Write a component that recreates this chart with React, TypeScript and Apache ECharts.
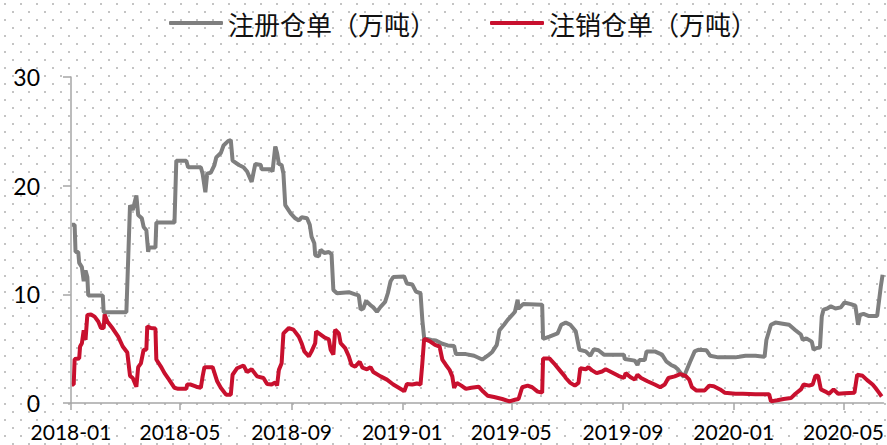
import React, { useEffect, useRef } from "react";
import * as echarts from "echarts";

const seriesNames = ["注册仓单（万吨）", "注销仓单（万吨）"];
const tickLabels = ["2018-01-01", "2018-05-01", "2018-09-01", "2019-01-01", "2019-05-01", "2019-09-01", "2020-01-01", "2020-05-01"];
const axisStart = "2018-01-01";
const axisEnd = "2020-06-14";
const yTicks = [0, 10, 20, 30];

const registered: [string, number][] = [
  ["2018-01-02", 16.4], ["2018-01-05", 16.4], ["2018-01-06", 13.9], ["2018-01-09", 13.9], ["2018-01-10", 12.9],
  ["2018-01-13", 12.5], ["2018-01-15", 11.2], ["2018-01-17", 12.2], ["2018-01-19", 11.6], ["2018-01-20", 9.9],
  ["2018-02-05", 9.9], ["2018-02-06", 8.35], ["2018-03-03", 8.35], ["2018-03-07", 18.2], ["2018-03-10", 17.75],
  ["2018-03-14", 19.1], ["2018-03-16", 17.3], ["2018-03-20", 17.0], ["2018-03-22", 16.2], ["2018-03-25", 15.9],
  ["2018-03-27", 13.9], ["2018-03-28", 14.3], ["2018-04-04", 14.3], ["2018-04-05", 16.6], ["2018-04-25", 16.6],
  ["2018-04-27", 22.3], ["2018-05-08", 22.3], ["2018-05-10", 21.7], ["2018-05-24", 21.7], ["2018-05-26", 21.1],
  ["2018-05-29", 19.4], ["2018-05-31", 21.1], ["2018-06-04", 21.2], ["2018-06-08", 21.9], ["2018-06-10", 22.6],
  ["2018-06-15", 23.0], ["2018-06-18", 23.7], ["2018-06-23", 24.1], ["2018-06-26", 24.2], ["2018-06-28", 22.3],
  ["2018-07-05", 21.9], ["2018-07-10", 21.7], ["2018-07-14", 21.3], ["2018-07-19", 20.35], ["2018-07-23", 22.0],
  ["2018-07-29", 21.9], ["2018-07-30", 21.5], ["2018-08-09", 21.5], ["2018-08-11", 21.3], ["2018-08-14", 23.6],
  ["2018-08-16", 23.0], ["2018-08-18", 22.0], ["2018-08-21", 21.9], ["2018-08-23", 21.1], ["2018-08-25", 18.2],
  ["2018-08-31", 17.45], ["2018-09-05", 17.0], ["2018-09-09", 16.8], ["2018-09-12", 17.1], ["2018-09-18", 17.0],
  ["2018-09-21", 16.4], ["2018-09-23", 15.3], ["2018-09-26", 14.7], ["2018-09-27", 13.6], ["2018-10-01", 13.5],
  ["2018-10-03", 14.1], ["2018-10-07", 13.8], ["2018-10-12", 13.9], ["2018-10-15", 13.7], ["2018-10-17", 10.4],
  ["2018-10-21", 10.1], ["2018-11-03", 10.2], ["2018-11-10", 10.0], ["2018-11-14", 9.9], ["2018-11-16", 8.6],
  ["2018-11-19", 8.7], ["2018-11-22", 9.4], ["2018-11-27", 9.0], ["2018-11-30", 8.8], ["2018-12-04", 8.4],
  ["2018-12-08", 8.85], ["2018-12-13", 9.3], ["2018-12-16", 10.1], ["2018-12-19", 11.2], ["2018-12-22", 11.6],
  ["2019-01-03", 11.65], ["2019-01-06", 11.0], ["2019-01-12", 10.9], ["2019-01-16", 10.25], ["2019-01-21", 10.1],
  ["2019-01-23", 7.65], ["2019-01-25", 5.97], ["2019-02-02", 5.8], ["2019-02-07", 5.75], ["2019-02-14", 5.45],
  ["2019-02-20", 5.3], ["2019-02-27", 5.25], ["2019-03-01", 4.5], ["2019-03-12", 4.5], ["2019-03-21", 4.35],
  ["2019-03-30", 4.0], ["2019-04-05", 4.35], ["2019-04-10", 4.7], ["2019-04-15", 5.35], ["2019-04-18", 6.7],
  ["2019-04-23", 7.2], ["2019-04-27", 7.65], ["2019-05-02", 8.1], ["2019-05-05", 8.4], ["2019-05-08", 9.5],
  ["2019-05-09", 8.7], ["2019-05-14", 9.1], ["2019-06-04", 9.05], ["2019-06-05", 5.9], ["2019-06-12", 6.1],
  ["2019-06-21", 6.4], ["2019-06-25", 7.2], ["2019-06-30", 7.4], ["2019-07-05", 7.2], ["2019-07-11", 6.6],
  ["2019-07-15", 4.9], ["2019-07-22", 4.75], ["2019-07-27", 4.35], ["2019-07-31", 4.95], ["2019-08-05", 4.85],
  ["2019-08-11", 4.45], ["2019-09-02", 4.45], ["2019-09-03", 4.05], ["2019-09-14", 3.9], ["2019-09-17", 3.5],
  ["2019-09-19", 3.95], ["2019-09-25", 3.95], ["2019-09-27", 4.75], ["2019-10-06", 4.75], ["2019-10-14", 4.45],
  ["2019-10-19", 3.8], ["2019-10-24", 3.5], ["2019-10-28", 3.35], ["2019-11-01", 3.05], ["2019-11-07", 2.4],
  ["2019-11-14", 3.8], ["2019-11-19", 4.75], ["2019-11-23", 4.9], ["2019-12-02", 4.85], ["2019-12-06", 4.35],
  ["2019-12-15", 4.2], ["2020-01-03", 4.2], ["2020-01-07", 4.25], ["2020-01-14", 4.35], ["2020-01-25", 4.35],
  ["2020-02-04", 4.25], ["2020-02-06", 5.8], ["2020-02-11", 7.2], ["2020-02-16", 7.4], ["2020-02-24", 7.3],
  ["2020-03-02", 7.2], ["2020-03-09", 6.7], ["2020-03-15", 6.3], ["2020-03-17", 5.8], ["2020-03-21", 5.95],
  ["2020-03-27", 5.65], ["2020-03-29", 4.9], ["2020-04-01", 5.05], ["2020-04-05", 5.1], ["2020-04-07", 7.95],
  ["2020-04-09", 8.6], ["2020-04-13", 8.7], ["2020-04-17", 8.9], ["2020-04-22", 8.7], ["2020-04-28", 8.8],
  ["2020-05-02", 9.25], ["2020-05-09", 9.1], ["2020-05-14", 8.95], ["2020-05-17", 7.2], ["2020-05-19", 8.1],
  ["2020-05-23", 8.2], ["2020-05-29", 8.0], ["2020-06-07", 8.0], ["2020-06-11", 10.7], ["2020-06-13", 11.8],
];

const cancelled: [string, number][] = [
  ["2018-01-02", 1.7], ["2018-01-04", 1.7], ["2018-01-05", 4.05], ["2018-01-10", 4.1], ["2018-01-11", 5.2],
  ["2018-01-13", 5.5], ["2018-01-15", 6.7], ["2018-01-17", 5.8], ["2018-01-19", 8.1], ["2018-01-23", 8.15],
  ["2018-01-27", 7.95], ["2018-01-31", 7.5], ["2018-02-03", 6.9], ["2018-02-06", 6.9], ["2018-02-07", 8.15],
  ["2018-02-10", 7.5], ["2018-02-16", 6.85], ["2018-02-22", 6.1], ["2018-02-27", 5.2], ["2018-03-04", 4.65],
  ["2018-03-07", 2.5], ["2018-03-10", 2.3], ["2018-03-14", 1.5], ["2018-03-16", 3.3], ["2018-03-19", 3.65],
  ["2018-03-22", 4.9], ["2018-03-25", 4.9], ["2018-03-26", 7.05], ["2018-03-30", 6.9], ["2018-04-04", 6.85],
  ["2018-04-05", 4.0], ["2018-04-10", 3.35], ["2018-04-14", 2.75], ["2018-04-19", 2.15], ["2018-04-25", 1.4],
  ["2018-04-29", 1.3], ["2018-05-08", 1.3], ["2018-05-09", 1.7], ["2018-05-13", 1.7], ["2018-05-19", 1.5],
  ["2018-05-24", 1.4], ["2018-05-26", 2.45], ["2018-05-28", 3.3], ["2018-06-06", 3.3], ["2018-06-11", 2.0],
  ["2018-06-15", 1.4], ["2018-06-21", 0.75], ["2018-06-26", 0.75], ["2018-06-28", 2.6], ["2018-07-03", 3.2],
  ["2018-07-10", 3.45], ["2018-07-14", 2.85], ["2018-07-19", 3.1], ["2018-07-25", 2.45], ["2018-08-01", 2.3],
  ["2018-08-05", 1.75], ["2018-08-10", 1.7], ["2018-08-14", 1.9], ["2018-08-16", 1.6], ["2018-08-18", 3.05],
  ["2018-08-21", 3.65], ["2018-08-23", 6.4], ["2018-08-29", 6.9], ["2018-09-03", 6.75], ["2018-09-09", 6.1],
  ["2018-09-12", 5.5], ["2018-09-15", 4.75], ["2018-09-20", 4.3], ["2018-09-23", 4.75], ["2018-09-27", 5.5],
  ["2018-09-28", 6.6], ["2018-10-03", 6.3], ["2018-10-08", 6.0], ["2018-10-12", 5.85], ["2018-10-14", 4.9],
  ["2018-10-17", 4.45], ["2018-10-19", 6.75], ["2018-10-23", 6.4], ["2018-10-25", 5.5], ["2018-10-30", 5.05],
  ["2018-11-03", 4.3], ["2018-11-06", 3.5], ["2018-11-10", 3.35], ["2018-11-15", 3.8], ["2018-11-18", 3.25],
  ["2018-11-23", 3.1], ["2018-11-27", 3.3], ["2018-11-30", 2.85], ["2018-12-08", 2.45], ["2018-12-15", 2.15],
  ["2018-12-22", 1.7], ["2018-12-28", 1.4], ["2019-01-02", 1.15], ["2019-01-03", 1.05], ["2019-01-06", 1.75],
  ["2019-01-12", 1.7], ["2019-01-17", 1.8], ["2019-01-21", 1.7], ["2019-01-23", 3.65], ["2019-01-25", 5.9],
  ["2019-01-31", 5.7], ["2019-02-06", 5.35], ["2019-02-11", 5.2], ["2019-02-14", 4.0], ["2019-02-18", 3.5],
  ["2019-02-22", 3.05], ["2019-02-25", 2.45], ["2019-02-27", 1.4], ["2019-03-02", 1.85], ["2019-03-07", 1.6],
  ["2019-03-12", 1.3], ["2019-03-18", 1.4], ["2019-03-26", 1.5], ["2019-03-31", 1.05], ["2019-04-05", 0.67],
  ["2019-04-12", 0.55], ["2019-04-21", 0.37], ["2019-04-29", 0.15], ["2019-05-05", 0.3], ["2019-05-09", 0.37],
  ["2019-05-13", 1.45], ["2019-05-19", 1.6], ["2019-05-24", 1.45], ["2019-05-30", 1.05], ["2019-06-04", 0.95],
  ["2019-06-05", 4.1], ["2019-06-12", 4.1], ["2019-06-17", 3.65], ["2019-06-23", 3.05], ["2019-06-29", 2.45],
  ["2019-06-30", 2.3], ["2019-07-05", 1.85], ["2019-07-10", 1.6], ["2019-07-14", 1.85], ["2019-07-16", 3.2],
  ["2019-07-22", 3.1], ["2019-07-25", 3.3], ["2019-07-29", 3.0], ["2019-08-03", 2.75], ["2019-08-09", 2.9],
  ["2019-08-13", 3.1], ["2019-08-20", 2.8], ["2019-08-27", 2.5], ["2019-09-02", 2.3], ["2019-09-04", 2.75],
  ["2019-09-09", 2.4], ["2019-09-14", 2.15], ["2019-09-17", 2.6], ["2019-09-21", 2.3], ["2019-09-28", 2.0],
  ["2019-10-06", 1.7], ["2019-10-12", 1.45], ["2019-10-17", 1.7], ["2019-10-21", 2.3], ["2019-10-28", 2.45],
  ["2019-11-03", 2.65], ["2019-11-09", 2.5], ["2019-11-13", 2.15], ["2019-11-16", 1.45], ["2019-11-21", 1.15],
  ["2019-11-30", 1.15], ["2019-12-05", 1.6], ["2019-12-10", 1.55], ["2019-12-17", 1.25], ["2019-12-22", 0.95],
  ["2020-01-03", 0.85], ["2020-01-11", 0.85], ["2020-01-25", 0.8], ["2020-02-09", 0.8], ["2020-02-11", 0.15],
  ["2020-02-18", 0.25], ["2020-02-25", 0.37], ["2020-03-04", 0.45], ["2020-03-09", 0.85], ["2020-03-15", 1.25],
  ["2020-03-18", 1.7], ["2020-03-24", 1.6], ["2020-03-28", 1.7], ["2020-03-31", 2.5], ["2020-04-03", 2.5],
  ["2020-04-06", 1.25], ["2020-04-11", 1.05], ["2020-04-15", 0.85], ["2020-04-20", 1.25], ["2020-04-25", 0.85],
  ["2020-05-02", 0.9], ["2020-05-13", 0.95], ["2020-05-16", 2.6], ["2020-05-22", 2.5], ["2020-05-27", 2.1],
  ["2020-06-02", 1.7], ["2020-06-05", 1.4], ["2020-06-09", 0.95], ["2020-06-12", 0.6],
];

const toTime = (s: string) => {
  const [y, m, d] = s.split("-").map(Number);
  return new Date(y, m - 1, d).getTime();
};

const fmtMonth = (v: number) => {
  const d = new Date(v);
  const m = d.getMonth() + 1;
  return `${d.getFullYear()}-${m < 10 ? "0" + m : m}`;
};

export default function App() {
  const ref = useRef<HTMLDivElement>(null);
  useEffect(() => {
    document.body.style.margin = "0";
    if (!ref.current) return;
    const chart = echarts.init(ref.current, null, { renderer: "svg" });
    const tickTimes = tickLabels.map(toTime);
    const axisColor = "#a6a6a6";
    chart.setOption({
      animation: false,
      backgroundColor: "transparent",
      legend: {
        left: 164,
        top: 5,
        icon: "roundRect",
        itemWidth: 54,
        itemHeight: 4,
        itemGap: 54,
        data: seriesNames,
        textStyle: { fontSize: 26, color: "#111", fontFamily: "Noto Sans CJK SC" },
      },
      grid: { left: 71, right: 2, top: 77, bottom: 42, containLabel: false },
      xAxis: {
        type: "value",
        min: toTime(axisStart),
        max: toTime(axisEnd),
        axisLine: { show: true, onZero: false, lineStyle: { color: axisColor, width: 1.5 } },
        axisTick: { show: true, length: 7, lineStyle: { color: axisColor, width: 1.5 }, customValues: tickTimes },
        splitLine: { show: false },
        axisLabel: {
          customValues: tickTimes,
          formatter: (v: number) => fmtMonth(v),
          fontSize: 21,
          fontFamily: "Lato",
          color: "#000",
          margin: 18,
          hideOverlap: false,
        },
      },
      yAxis: {
        type: "value",
        min: yTicks[0],
        max: yTicks[yTicks.length - 1],
        interval: yTicks[1] - yTicks[0],
        axisLine: { show: true, lineStyle: { color: axisColor, width: 1.5 } },
        axisTick: { show: true, length: 8, lineStyle: { color: axisColor, width: 1.5 } },
        splitLine: { show: false },
        axisLabel: { fontSize: 23, fontFamily: "Lato", color: "#000", margin: 31 },
      },
      series: [
        {
          name: seriesNames[0],
          type: "line",
          data: registered.map(([d, v]) => [toTime(d), v]),
          showSymbol: false,
          symbol: "none",
          color: "#7f7f7f",
          lineStyle: { width: 4, color: "#7f7f7f" },
          z: 2,
        },
        {
          name: seriesNames[1],
          type: "line",
          data: cancelled.map(([d, v]) => [toTime(d), v]),
          showSymbol: false,
          symbol: "none",
          color: "#c8102e",
          lineStyle: { width: 4, color: "#c8102e" },
          z: 3,
        },
      ],
    });
    return () => chart.dispose();
  }, []);

  const dot = "radial-gradient(circle, #c4c4c4 0.9px, rgba(255,255,255,0) 1.3px)";
  return (
    <div
      ref={ref}
      style={{
        width: 887,
        height: 445,
        backgroundColor: "#fff",
        backgroundImage: `${dot}, ${dot}`,
        backgroundSize: "16px 16px, 16px 16px",
        backgroundPosition: "5px 4px, 13px 12px",
      }}
    />
  );
}
